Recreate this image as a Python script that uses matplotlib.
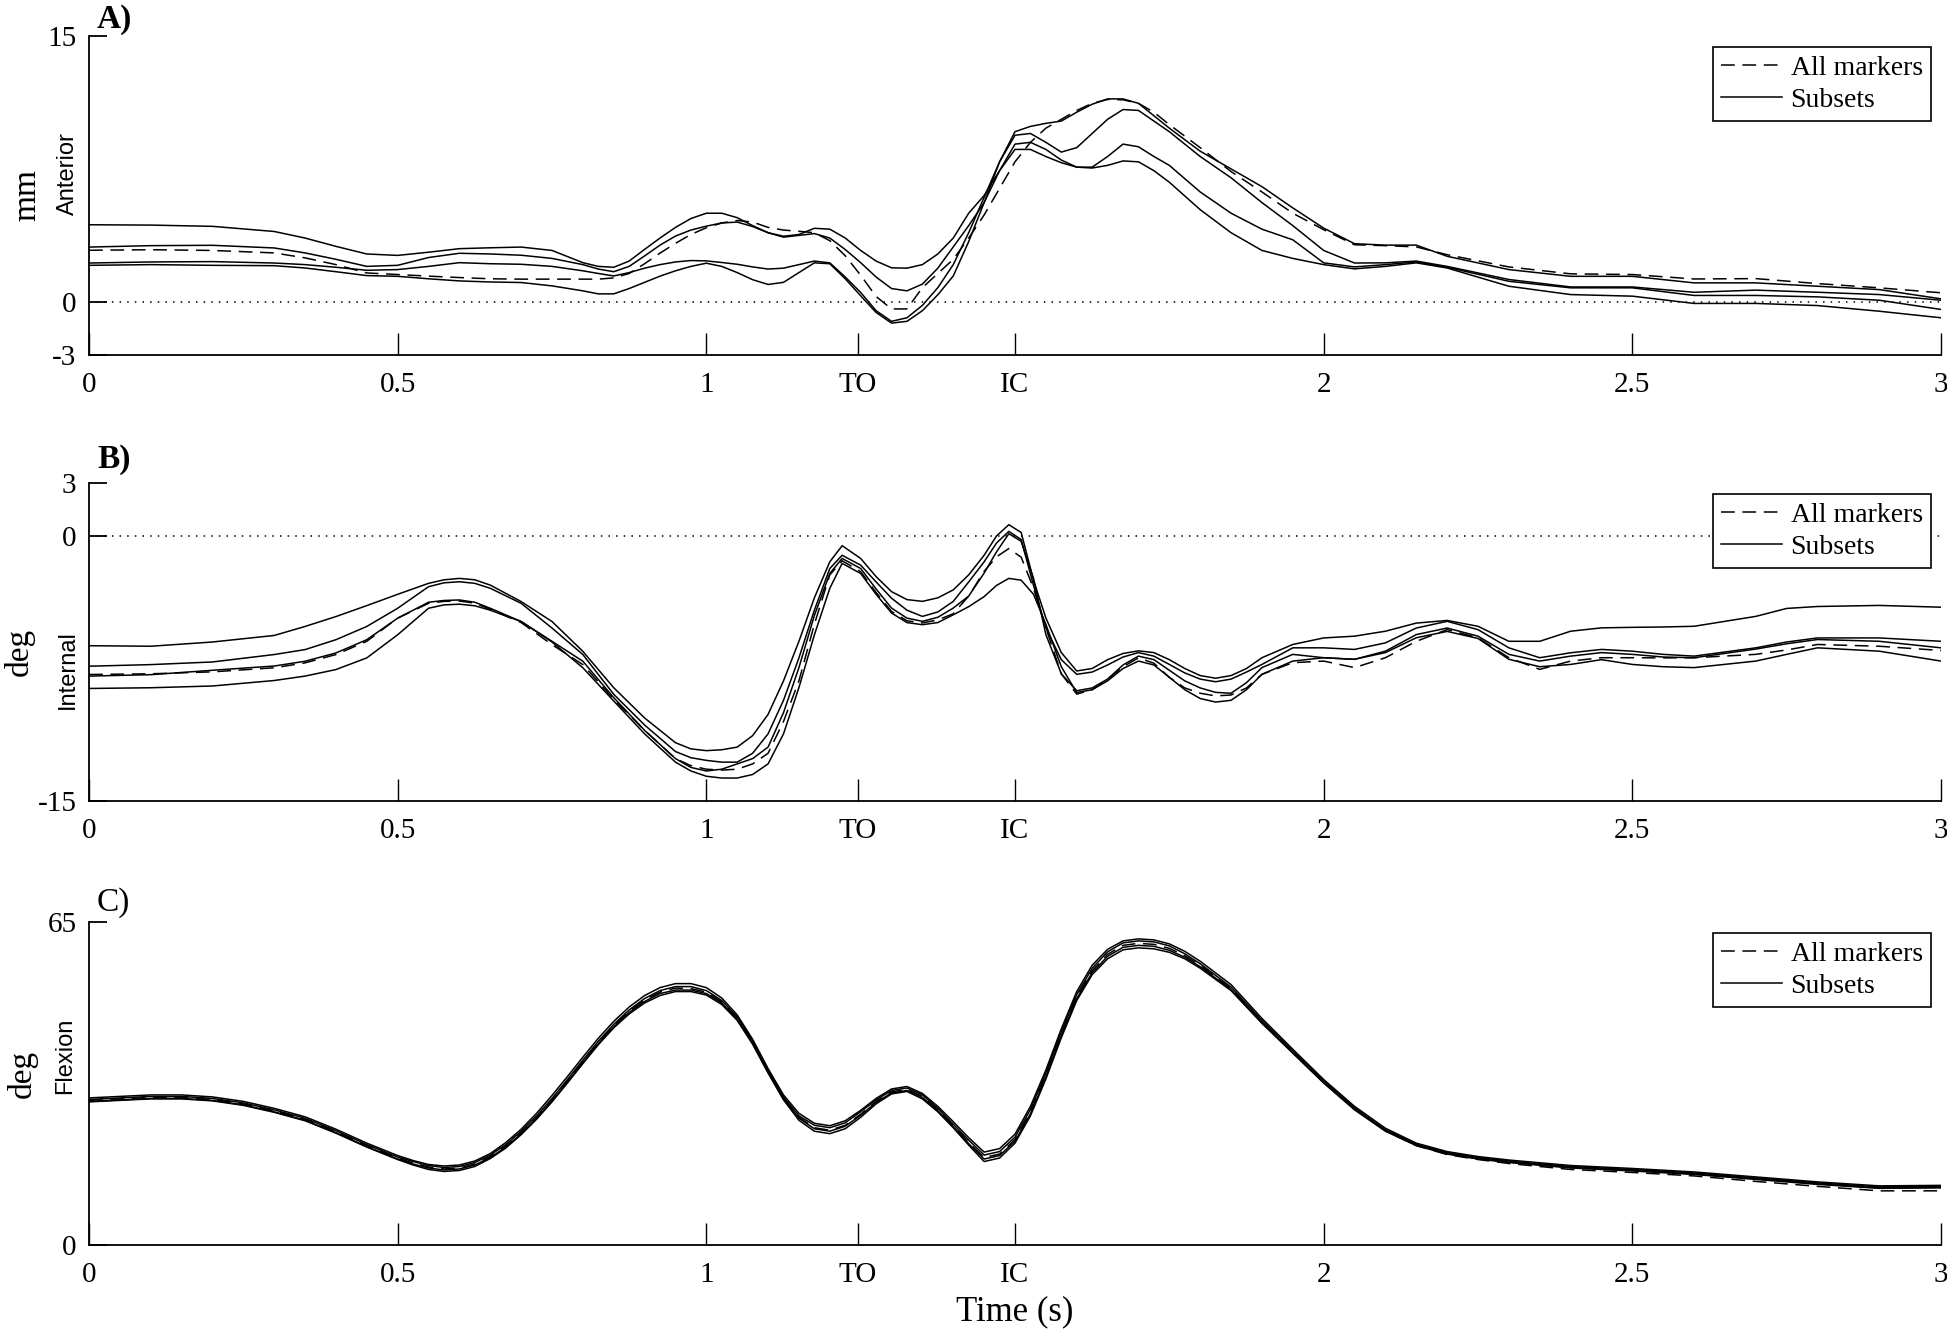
import matplotlib
matplotlib.use("Agg")
import matplotlib.pyplot as plt

plt.rcParams['font.family'] = ['Liberation Serif', 'DejaVu Serif']

# x tick positions / labels (gait events TO and IC)
xticks = [0, 0.5, 1, 1.245, 1.5, 2, 2.5, 3]
xticklabels = ['0', '0.5', '1', 'TO', 'IC', '2', '2.5', '3']

# ---- panel A : anterior translation (mm)
tA = [0, 0.1, 0.2, 0.3, 0.35, 0.4, 0.45, 0.5, 0.55, 0.6,
      0.65, 0.7, 0.75, 0.8, 0.825, 0.85, 0.875, 0.9, 0.925, 0.95,
      0.975, 1.0, 1.025, 1.05, 1.075, 1.1, 1.125, 1.15, 1.175, 1.2,
      1.225, 1.25, 1.275, 1.3, 1.325, 1.35, 1.375, 1.4, 1.425, 1.45,
      1.475, 1.5, 1.525, 1.55, 1.575, 1.6, 1.625, 1.65, 1.675, 1.7,
      1.725, 1.75, 1.8, 1.85, 1.9, 1.95, 2.0, 2.05, 2.1, 2.15,
      2.2, 2.3, 2.4, 2.5, 2.6, 2.7, 2.8, 2.9, 3.0]
a_all = [2.91, 2.94, 2.9, 2.76, 2.48, 2.1, 1.63, 1.54, 1.45, 1.37,
         1.3, 1.28, 1.28, 1.28, 1.28, 1.35, 1.6, 2.15, 2.75, 3.3,
         3.8, 4.18, 4.45, 4.59, 4.5, 4.2, 4.05, 3.98, 3.9, 3.45,
         2.6, 1.5, 0.3, -0.4, -0.4, 0.8, 1.6, 2.4, 3.6, 4.9,
         6.4, 7.9, 9.0, 9.8, 10.3, 10.8, 11.2, 11.42, 11.4, 11.2,
         10.7, 10.0, 8.7, 7.35, 6.2, 5.0, 4.07, 3.22, 3.17, 3.1,
         2.66, 1.97, 1.58, 1.54, 1.29, 1.31, 1.03, 0.79, 0.51]
a_s1 = [4.35, 4.33, 4.26, 3.97, 3.6, 3.13, 2.7, 2.62, 2.8, 3.0,
        3.05, 3.09, 2.9, 2.21, 2.0, 1.95, 2.3, 2.96, 3.6, 4.2,
        4.7, 5.0, 5.0, 4.75, 4.3, 3.9, 3.7, 3.8, 4.15, 4.1,
        3.6, 2.9, 2.3, 1.92, 1.9, 2.1, 2.7, 3.6, 5.0, 6.0,
        7.4, 8.6, 8.6, 8.2, 7.85, 7.6, 7.55, 7.7, 7.95, 7.9,
        7.4, 6.75, 5.2, 3.9, 2.9, 2.45, 2.1, 1.86, 2.0, 2.2,
        1.91, 0.88, 0.41, 0.32, -0.09, -0.09, -0.21, -0.53, -0.9]
a_s2 = [3.09, 3.17, 3.19, 3.04, 2.76, 2.4, 2.0, 2.06, 2.5, 2.74,
        2.7, 2.63, 2.45, 2.1, 1.85, 1.7, 2.0, 2.59, 3.2, 3.71,
        4.05, 4.27, 4.45, 4.5, 4.25, 3.9, 3.65, 3.75, 3.85, 3.6,
        2.95, 2.21, 1.4, 0.75, 0.62, 1.0, 1.9, 3.1, 4.3, 5.6,
        7.4, 8.9, 9.0, 8.6, 8.0, 7.6, 7.6, 8.2, 8.9, 8.75,
        8.2, 7.7, 6.2, 5.0, 4.1, 3.5, 2.2, 1.97, 2.1, 2.25,
        1.95, 1.16, 0.79, 0.79, 0.36, 0.36, 0.28, 0.09, -0.43]
a_s3 = [2.19, 2.25, 2.27, 2.19, 2.1, 1.95, 1.78, 1.82, 2.0, 2.21,
        2.15, 2.12, 2.0, 1.75, 1.6, 1.46, 1.65, 1.9, 2.1, 2.25,
        2.33, 2.31, 2.22, 2.12, 1.97, 1.85, 1.9, 2.1, 2.3, 2.2,
        1.4, 0.53, -0.5, -1.1, -0.9, -0.2, 0.8, 2.1, 3.9, 5.9,
        7.9, 9.4, 9.5, 9.0, 8.45, 8.7, 9.5, 10.3, 10.85, 10.8,
        10.2, 9.6, 8.2, 7.0, 5.6, 4.3, 2.9, 2.19, 2.2, 2.3,
        2.0, 1.26, 0.84, 0.84, 0.54, 0.66, 0.54, 0.41, 0.09]
a_s4 = [2.06, 2.1, 2.06, 2.04, 1.91, 1.7, 1.48, 1.44, 1.3, 1.18,
        1.12, 1.09, 0.9, 0.62, 0.45, 0.45, 0.75, 1.1, 1.45, 1.75,
        2.0, 2.18, 2.0, 1.65, 1.25, 0.98, 1.1, 1.65, 2.2, 2.15,
        1.3, 0.34, -0.6, -1.2, -1.1, -0.5, 0.4, 1.46, 3.4, 5.6,
        7.9, 9.6, 9.9, 10.07, 10.2, 10.7, 11.15, 11.45, 11.45, 11.2,
        10.5, 9.8, 8.5, 7.5, 6.5, 5.3, 4.16, 3.28, 3.2, 3.2,
        2.57, 1.82, 1.44, 1.44, 1.07, 1.07, 0.88, 0.69, 0.17]

# ---- panel B : internal rotation (deg)
tB = [0, 0.1, 0.2, 0.3, 0.35, 0.4, 0.45, 0.5, 0.55, 0.575,
      0.6, 0.625, 0.65, 0.7, 0.75, 0.8, 0.85, 0.9, 0.95, 0.975,
      1.0, 1.025, 1.05, 1.075, 1.1, 1.125, 1.15, 1.175, 1.2, 1.22,
      1.25, 1.275, 1.3, 1.325, 1.35, 1.375, 1.4, 1.425, 1.45, 1.47,
      1.49, 1.51, 1.53, 1.55, 1.575, 1.6, 1.625, 1.65, 1.675, 1.7,
      1.725, 1.75, 1.775, 1.8, 1.825, 1.85, 1.875, 1.9, 1.95, 2.0,
      2.05, 2.1, 2.15, 2.2, 2.25, 2.3, 2.35, 2.4, 2.45, 2.5,
      2.55, 2.6, 2.7, 2.75, 2.8, 2.9, 3.0]
b_all = [-7.84, -7.8, -7.69, -7.46, -7.18, -6.71, -5.96, -4.65, -3.81, -3.7,
         -3.68, -3.8, -4.15, -4.9, -6.15, -7.28, -9.24, -11.0, -12.6, -13.0,
         -13.2, -13.25, -13.2, -12.9, -12.3, -10.5, -8.2, -5.0, -2.2, -1.4,
         -2.02, -3.2, -4.27, -4.8, -4.92, -4.75, -4.4, -3.4, -2.0, -1.18,
         -0.71, -1.2, -2.96, -5.2, -7.8, -8.95, -8.7, -8.1, -7.4, -6.9,
         -7.2, -8.0, -8.6, -8.9, -9.05, -9.0, -8.6, -7.83, -7.17, -7.08,
         -7.45, -6.89, -5.96, -5.3, -5.76, -6.89, -7.55, -7.08, -6.89, -6.89,
         -6.9, -6.89, -6.7, -6.45, -6.14, -6.24, -6.48]
b_s1 = [-6.21, -6.24, -6.0, -5.63, -5.12, -4.56, -3.94, -3.3, -2.68, -2.48,
        -2.4, -2.48, -2.78, -3.71, -4.84, -6.53, -8.59, -10.3, -11.7, -12.05,
        -12.15, -12.1, -11.95, -11.3, -10.1, -8.2, -5.96, -3.5, -1.46, -0.55,
        -1.27, -2.3, -3.15, -3.6, -3.7, -3.5, -3.05, -2.2, -1.09, 0.0,
        0.64, 0.2, -2.5, -4.64, -6.6, -7.64, -7.5, -7.0, -6.65, -6.5,
        -6.6, -7.0, -7.5, -7.9, -8.05, -7.9, -7.5, -6.89, -6.14, -5.77,
        -5.67, -5.39, -4.93, -4.78, -5.11, -5.96, -5.96, -5.39, -5.2, -5.17,
        -5.15, -5.11, -4.55, -4.1, -3.99, -3.93, -4.03]
b_s2 = [-7.37, -7.28, -7.13, -6.71, -6.43, -5.87, -5.12, -4.09, -2.87, -2.65,
        -2.59, -2.68, -2.96, -3.81, -5.21, -6.71, -8.96, -10.7, -12.2, -12.55,
        -12.7, -12.8, -12.8, -12.3, -11.2, -9.3, -6.9, -4.2, -1.84, -1.09,
        -1.65, -2.6, -3.52, -4.2, -4.55, -4.3, -3.7, -2.6, -1.46, -0.4,
        0.26, -0.2, -2.8, -5.2, -7.0, -7.83, -7.7, -7.3, -6.85, -6.6,
        -6.8, -7.27, -7.75, -8.1, -8.25, -8.1, -7.7, -7.27, -6.33, -6.33,
        -6.42, -6.05, -5.21, -4.83, -5.3, -6.33, -6.89, -6.61, -6.42, -6.52,
        -6.7, -6.8, -6.33, -6.0, -5.77, -5.77, -5.96]
b_s3 = [-7.93, -7.85, -7.6, -7.36, -7.09, -6.62, -5.87, -4.65, -3.75, -3.65,
        -3.62, -3.75, -4.09, -4.84, -5.96, -7.09, -9.15, -11.0, -12.6, -13.1,
        -13.3, -13.2, -12.9, -12.6, -11.95, -10.0, -7.45, -4.5, -2.12, -1.27,
        -1.84, -3.0, -4.08, -4.65, -4.83, -4.6, -4.08, -3.4, -2.1, -0.9,
        0.13, -0.3, -2.4, -5.58, -7.8, -8.76, -8.6, -8.1, -7.3, -6.8,
        -7.0, -7.6, -8.2, -8.6, -8.85, -8.9, -8.3, -7.45, -6.7, -6.89,
        -6.98, -6.52, -5.58, -5.21, -5.67, -6.7, -7.08, -6.8, -6.6, -6.7,
        -6.85, -6.89, -6.4, -6.1, -5.86, -5.96, -6.33]
b_s4 = [-8.63, -8.59, -8.49, -8.18, -7.93, -7.56, -6.9, -5.59, -4.09, -3.9,
        -3.86, -3.95, -4.2, -4.84, -6.0, -7.46, -9.34, -11.2, -12.8, -13.3,
        -13.6, -13.7, -13.7, -13.5, -12.9, -11.2, -8.58, -5.6, -2.96, -1.55,
        -2.12, -3.3, -4.36, -4.9, -5.02, -4.9, -4.46, -4.0, -3.43, -2.8,
        -2.4, -2.5, -3.3, -5.0, -7.4, -8.86, -8.7, -8.2, -7.5, -7.08,
        -7.3, -8.0, -8.7, -9.2, -9.4, -9.3, -8.7, -7.83, -7.08, -6.89,
        -6.98, -6.6, -5.76, -5.4, -5.8, -6.98, -7.4, -7.27, -7.0, -7.27,
        -7.4, -7.45, -7.08, -6.7, -6.33, -6.52, -7.08]

# ---- panel C : flexion (deg)
tC = [0, 0.05, 0.1, 0.15, 0.2, 0.25, 0.3, 0.35, 0.4, 0.45,
      0.5, 0.525, 0.55, 0.575, 0.6, 0.625, 0.65, 0.675, 0.7, 0.725,
      0.75, 0.775, 0.8, 0.825, 0.85, 0.875, 0.9, 0.925, 0.95, 0.975,
      1.0, 1.025, 1.05, 1.075, 1.1, 1.125, 1.15, 1.175, 1.2, 1.225,
      1.25, 1.275, 1.3, 1.325, 1.35, 1.375, 1.4, 1.425, 1.45, 1.475,
      1.5, 1.525, 1.55, 1.575, 1.6, 1.625, 1.65, 1.675, 1.7, 1.725,
      1.75, 1.775, 1.8, 1.85, 1.9, 1.95, 2.0, 2.05, 2.1, 2.15,
      2.2, 2.25, 2.3, 2.4, 2.5, 2.6, 2.7, 2.8, 2.9, 3.0]
c_all = [29.1, 29.4, 29.7, 29.7, 29.3, 28.4, 27.0, 25.3, 22.8, 20.0,
         17.5, 16.5, 15.7, 15.3, 15.5, 16.3, 17.8, 19.9, 22.6, 25.7,
         29.2, 33.0, 36.9, 40.7, 44.1, 47.0, 49.3, 50.9, 51.7, 51.6,
         50.9, 48.9, 45.6, 40.8, 35.0, 29.6, 25.7, 23.6, 23.1, 24.1,
         26.3, 28.9, 30.8, 31.3, 29.9, 27.2, 24.0, 20.6, 17.6, 18.3,
         21.2, 26.7, 34.0, 42.3, 49.9, 55.2, 58.5, 60.3, 60.7, 60.5,
         59.7, 58.2, 56.3, 51.6, 44.9, 38.8, 32.8, 27.4, 23.0, 20.0,
         18.2, 17.2, 16.4, 15.2, 14.6, 13.9, 12.8, 11.8, 10.9, 10.9]
c_s1 = [29.6, 29.9, 30.2, 30.2, 29.8, 28.9, 27.5, 25.8, 23.3, 20.5,
        18.0, 17.0, 16.2, 15.9, 16.1, 16.9, 18.4, 20.6, 23.3, 26.5,
        30.1, 33.9, 37.8, 41.6, 45.0, 47.9, 50.2, 51.8, 52.6, 52.6,
        51.8, 49.7, 46.3, 41.4, 35.5, 30.2, 26.5, 24.5, 24.0, 25.0,
        27.1, 29.5, 31.4, 31.9, 30.5, 27.9, 24.8, 21.6, 18.7, 19.4,
        22.3, 27.9, 35.2, 43.5, 51.0, 56.3, 59.5, 61.2, 61.6, 61.4,
        60.6, 59.1, 57.1, 52.4, 45.6, 39.4, 33.3, 27.9, 23.5, 20.5,
        18.8, 17.8, 17.1, 16.0, 15.4, 14.7, 13.7, 12.7, 11.9, 12.0]
c_s2 = [29.3, 29.6, 29.9, 29.9, 29.5, 28.6, 27.2, 25.5, 23.0, 20.2,
        17.7, 16.8, 16.0, 15.6, 15.8, 16.6, 18.1, 20.2, 22.9, 26.0,
        29.5, 33.3, 37.2, 41.0, 44.4, 47.3, 49.6, 51.2, 52.0, 52.0,
        51.2, 49.2, 45.9, 41.0, 35.2, 29.8, 26.0, 24.1, 23.6, 24.6,
        26.8, 29.2, 31.1, 31.6, 30.2, 27.5, 24.3, 21.1, 18.1, 18.8,
        21.7, 27.3, 34.6, 42.9, 50.4, 55.7, 59.0, 60.8, 61.2, 61.0,
        60.2, 58.6, 56.6, 51.9, 45.2, 39.1, 33.1, 27.6, 23.2, 20.3,
        18.6, 17.6, 16.9, 15.8, 15.2, 14.5, 13.5, 12.5, 11.7, 11.8]
c_s3 = [28.9, 29.2, 29.5, 29.5, 29.1, 28.2, 26.8, 25.1, 22.6, 19.8,
        17.3, 16.3, 15.5, 15.1, 15.3, 16.1, 17.6, 19.7, 22.4, 25.5,
        29.0, 32.8, 36.7, 40.5, 43.9, 46.8, 49.0, 50.6, 51.3, 51.3,
        50.6, 48.7, 45.4, 40.6, 34.8, 29.4, 25.5, 23.4, 22.9, 23.9,
        26.1, 28.7, 30.6, 31.1, 29.7, 27.0, 23.8, 20.4, 17.3, 18.0,
        20.9, 26.4, 33.8, 42.1, 49.6, 54.8, 58.1, 59.9, 60.3, 60.1,
        59.3, 57.9, 56.0, 51.4, 44.8, 38.7, 32.7, 27.3, 23.0, 20.1,
        18.4, 17.4, 16.7, 15.6, 15.0, 14.3, 13.3, 12.3, 11.5, 11.6]
c_s4 = [28.8, 29.1, 29.4, 29.4, 29.0, 28.1, 26.7, 25.0, 22.5, 19.7,
        17.2, 16.1, 15.2, 14.8, 15.0, 15.8, 17.4, 19.5, 22.2, 25.3,
        28.8, 32.6, 36.5, 40.3, 43.7, 46.5, 48.7, 50.2, 51.0, 51.0,
        50.3, 48.4, 45.2, 40.4, 34.6, 29.2, 25.1, 22.9, 22.4, 23.4,
        25.7, 28.4, 30.4, 30.9, 29.4, 26.8, 23.6, 20.1, 16.8, 17.5,
        20.5, 26.0, 33.4, 41.7, 49.2, 54.4, 57.6, 59.4, 59.8, 59.6,
        58.9, 57.6, 55.7, 51.2, 44.6, 38.6, 32.6, 27.2, 22.9, 20.0,
        18.3, 17.3, 16.6, 15.5, 14.9, 14.2, 13.2, 12.2, 11.4, 11.5]

panels = [
    dict(t=tA, all=a_all, subs=[a_s1, a_s2, a_s3, a_s4], ylim=(-3, 15),
         yticks=[-3, 0, 15], unit='mm', direction='Anterior', tag='A)',
         bold=True, zero=True),
    dict(t=tB, all=b_all, subs=[b_s1, b_s2, b_s3, b_s4], ylim=(-15, 3),
         yticks=[-15, 0, 3], unit='deg', direction='Internal', tag='B)',
         bold=True, zero=True),
    dict(t=tC, all=c_all, subs=[c_s1, c_s2, c_s3, c_s4], ylim=(0, 65),
         yticks=[0, 65], unit='deg', direction='Flexion', tag='C)',
         bold=False, zero=False),
]

W, H = 1947, 1331
fig = plt.figure(figsize=(W / 100, H / 100), dpi=100)

left, right = 89 / W, 1941 / W
# (top, bottom) of each axes in pixels
boxes = [(36, 355), (483, 801), (922, 1245)]
# label positions in pixels: unit label, direction label, panel tag
unit_pos = [(27, 195), (19, 652), (22, 1074)]
dir_pos = [(68, 174), (68, 670), (65, 1056)]
tag_pos = [(97, 28), (97, 468), (97, 911)]

lw = 1.1
for i, p in enumerate(panels):
    top, bot = boxes[i]
    ax = fig.add_axes([left, 1 - bot / H, right - left, (bot - top) / H])

    if p['zero']:
        ax.axhline(0, color='black', lw=1.1, ls=(0, (1, 4)))
    h_all, = ax.plot(p['t'], p['all'], color='black', lw=lw, ls=(0, (9, 5)))
    for s in p['subs']:
        h_sub, = ax.plot(p['t'], s, color='black', lw=lw, ls='-')

    ax.set_xlim(0, 3)
    ax.set_ylim(*p['ylim'])
    ax.set_xticks(xticks)
    ax.set_xticklabels(xticklabels)
    ax.set_yticks(p['yticks'])
    ax.set_yticklabels([str(v) for v in p['yticks']])
    for side in ['top', 'right']:
        ax.spines[side].set_visible(False)
    for side in ['left', 'bottom']:
        ax.spines[side].set_linewidth(1.3)
    ax.tick_params(axis='x', direction='in', length=16, width=1.0,
                   labelsize=21, pad=12)
    ax.tick_params(axis='y', direction='in', length=13, width=1.3,
                   labelsize=21, pad=9)

    leg = ax.legend([h_all, h_sub], ['All markers', 'Subsets'],
                    loc='upper right', bbox_to_anchor=(0.9946, 0.966),
                    borderaxespad=0, fontsize=20, handlelength=2.2,
                    handletextpad=0.3, labelspacing=0.25, borderpad=0.3,
                    fancybox=False, framealpha=1, edgecolor='black')
    leg.get_frame().set_linewidth(1.2)

    ux, uy = unit_pos[i]
    fig.text(ux / W, 1 - uy / H, p['unit'], rotation=90, fontsize=24,
             ha='center', va='center')
    dx, dy = dir_pos[i]
    fig.text(dx / W, 1 - dy / H, p['direction'], rotation=90, fontsize=17,
             ha='center', va='center', family=['Liberation Sans', 'DejaVu Sans'])
    tx, ty = tag_pos[i]
    fig.text(tx / W, 1 - ty / H, p['tag'], fontsize=24,
             fontweight='bold' if p['bold'] else 'normal',
             ha='left', va='baseline')

fig.text((left + right) / 2, 1 - 1312 / H, 'Time (s)', fontsize=25,
         ha='center', va='center')

fig.savefig('out.png', dpi=100)
